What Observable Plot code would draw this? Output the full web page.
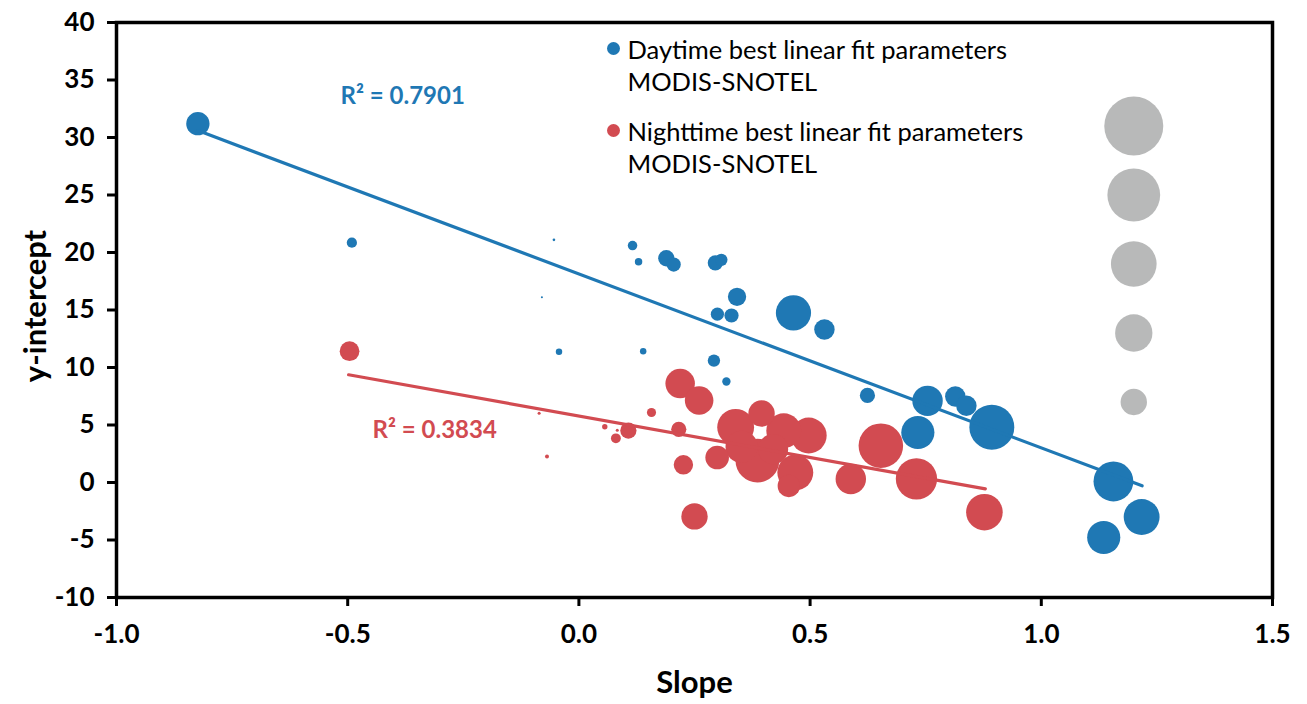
<!DOCTYPE html>
<html>
<head>
<meta charset="utf-8">
<script src="https://cdn.jsdelivr.net/npm/d3@7"></script>
<script src="https://cdn.jsdelivr.net/npm/@observablehq/plot@0.6"></script>
<style>
  html, body { margin: 0; padding: 0; background: #fff; }
  #chart svg { display: block; }
</style>
</head>
<body>
<div id="chart"></div>
<script>
// Daytime best linear fit parameters (MODIS-SNOTEL)
const daySlope = [-0.824, -0.491, -0.054, -0.080, 0.116, 0.129, -0.043, 0.139, 0.189, 0.205,
  0.295, 0.308, 0.342, 0.2995, 0.330, 0.464, 0.531, 0.292, 0.319, 0.624,
  0.754, 0.814, 0.838, 0.733, 0.893, 1.156, 1.217, 1.135];
const dayIntercept = [31.2, 20.85, 21.1, 16.1, 20.6, 19.2, 11.37, 11.42, 19.5, 18.95,
  19.1, 19.36, 16.15, 14.64, 14.52, 14.75, 13.3, 10.6, 8.78, 7.57,
  7.10, 7.48, 6.67, 4.35, 4.81, 0.09, -3.0, -4.78];
const daySize = [0.78, 0.15, 0.01, 0.006, 0.13, 0.08, 0.06, 0.06, 0.38, 0.29,
  0.33, 0.22, 0.48, 0.25, 0.29, 1.78, 0.6, 0.22, 0.1, 0.33,
  1.33, 0.6, 0.6, 1.58, 2.9, 2.28, 1.85, 1.58];

// Nighttime best linear fit parameters (MODIS-SNOTEL)
const nightSlope = [-0.496, -0.086, -0.069, 0.056, 0.083, 0.080, 0.107, 0.157, 0.216, 0.226,
  0.219, 0.260, 0.250, 0.299, 0.339, 0.386, 0.395, 0.443, 0.497, 0.468,
  0.454, 0.588, 0.653, 0.730, 0.877, 0.352, 0.420];
const nightIntercept = [11.42, 6.03, 2.26, 4.85, 4.55, 3.84, 4.52, 6.09, 4.62, 1.54,
  8.6, 7.13, -2.95, 2.17, 4.8, 1.9, 6.0, 4.5, 4.09, 0.87,
  -0.3, 0.3, 3.2, 0.32, -2.58, 3.1, 2.9];
const nightSize = [0.56, 0.013, 0.023, 0.042, 0.013, 0.14, 0.38, 0.12, 0.33, 0.54,
  1.25, 1.17, 1.0, 0.8, 1.95, 2.75, 1.0, 1.75, 1.85, 1.85,
  0.72, 1.33, 2.85, 2.45, 1.92, 1.5, 1.3];

// Size key bubbles (grey)
const keySlope = [1.2, 1.2, 1.2, 1.2, 1.2];
const keyIntercept = [31, 25, 19, 13, 7];
const keySize = [5, 4, 3, 2, 1];

// Linear fit lines (end points)
const dayFitSlope = [-0.824, 1.218];
const dayFitIntercept = [30.6, -0.29];
const nightFitSlope = [-0.498, 0.879];
const nightFitIntercept = [9.37, -0.55];

const dayR2 = "R² = 0.7901";
const nightR2 = "R² = 0.3834";
const dayLabel = "Daytime best linear fit parameters\nMODIS-SNOTEL";
const nightLabel = "Nighttime best linear fit parameters\nMODIS-SNOTEL";

const xTicks = [-1.0, -0.5, 0.0, 0.5, 1.0, 1.5];
const yTicks = [-10, -5, 0, 5, 10, 15, 20, 25, 30, 35, 40];

const BLUE = "#1f78b4";
const RED = "#d24b51";
const GREY = "#b8b9b9";
const FONT = "Lato, 'Open Sans', sans-serif";

const toRows = (xs, ys, ss) => xs.map((x, i) => ({x, y: ys[i], s: ss ? ss[i] : null}));
const day = toRows(daySlope, dayIntercept, daySize);
const night = toRows(nightSlope, nightIntercept, nightSize);
const key = toRows(keySlope, keyIntercept, keySize);
const dayFit = toRows(dayFitSlope, dayFitIntercept);
const nightFit = toRows(nightFitSlope, nightFitIntercept);

const chart = Plot.plot({
  width: 1307,
  height: 704,
  marginLeft: 116,
  marginRight: 35,
  marginTop: 22,
  marginBottom: 107,
  style: {fontFamily: FONT, background: "#fff", color: "#000"},
  x: {domain: [-1, 1.5]},
  y: {domain: [-10, 40]},
  r: {domain: [0, 5], range: [0, 29.5]},
  marks: [
    Plot.axisY({ticks: yTicks, tickFormat: d => String(d), tickSize: 9, tickPadding: 13,
      fontSize: 26, fontWeight: "bold", stroke: "#000", strokeWidth: 3, label: null}),
    Plot.axisX({ticks: xTicks, tickFormat: d => d.toFixed(1), tickSize: 9, tickPadding: 18,
      fontSize: 26, fontWeight: "bold", stroke: "#000", strokeWidth: 3, label: null}),
    Plot.dot(key, {x: "x", y: "y", r: "s", fill: GREY, sort: null}),
    Plot.dot(night, {x: "x", y: "y", r: "s", fill: RED}),
    Plot.dot(day, {x: "x", y: "y", r: "s", fill: BLUE}),
    Plot.line(nightFit, {x: "x", y: "y", stroke: RED, strokeWidth: 3.2}),
    Plot.line(dayFit, {x: "x", y: "y", stroke: BLUE, strokeWidth: 3.2}),
    Plot.frame({stroke: "#000", strokeWidth: 3.5, strokeOpacity: 1}),
    // legend
    Plot.dot([0], {frameAnchor: "top-left", dx: 497, dy: 26, r: 6.5, fill: BLUE}),
    Plot.dot([0], {frameAnchor: "top-left", dx: 497, dy: 108, r: 6.5, fill: RED}),
    Plot.text([dayLabel], {text: d => d, frameAnchor: "top-left", dx: 511, dy: 42.5, lineAnchor: "middle",
      textAnchor: "start", lineHeight: 1.25, fontSize: 25.5, fill: "#000"}),
    Plot.text([nightLabel], {text: d => d, frameAnchor: "top-left", dx: 511, dy: 124, lineAnchor: "middle",
      textAnchor: "start", lineHeight: 1.25, fontSize: 25.5, fill: "#000"}),
    // R² labels
    Plot.text([dayR2], {text: d => d, frameAnchor: "top-left", dx: 224, dy: 74, lineAnchor: "middle",
      textAnchor: "start", fontSize: 24, fontWeight: "bold", fill: BLUE}),
    Plot.text([nightR2], {text: d => d, frameAnchor: "top-left", dx: 256, dy: 408, lineAnchor: "middle",
      textAnchor: "start", fontSize: 24, fontWeight: "bold", fill: RED}),
    // axis titles
    Plot.text(["Slope"], {text: d => d, frameAnchor: "bottom", dy: 86, lineAnchor: "middle",
      textAnchor: "middle", fontSize: 31, fontWeight: "bold", fill: "#000"}),
    Plot.text(["y-intercept"], {text: d => d, frameAnchor: "left", dx: -80, dy: -4, rotate: -90, lineAnchor: "middle",
      textAnchor: "middle", fontSize: 31, fontWeight: "bold", fill: "#000"})
  ]
});
document.getElementById("chart").append(chart);
</script>
</body>
</html>
